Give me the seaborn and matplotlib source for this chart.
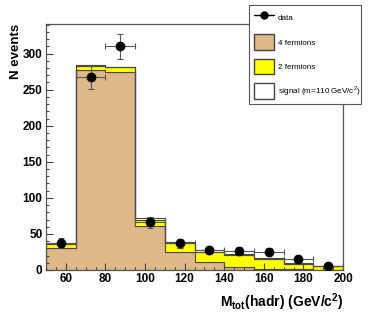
import numpy as np
import pandas as pd
import matplotlib
matplotlib.use("Agg")
import matplotlib.pyplot as plt
from matplotlib.patches import Patch
from matplotlib.lines import Line2D
from matplotlib.ticker import MultipleLocator
import seaborn as sns

# binning of the hadronic total mass (GeV/c^2)
bin_edges = [50, 65, 80, 95, 110, 125, 140, 155, 170, 185, 200]
bin_centers = [57.5, 72.5, 87.5, 102.5, 117.5, 132.5, 147.5, 162.5, 177.5, 192.5]
bin_half_width = 7.5

# stacked MC expectations (bottom to top)
four_fermions = [30, 277, 274, 61, 24.5, 11.5, 4.6, 1.5, 0.8, 0.5]
two_fermions = [5.6, 6, 7.5, 9, 12.5, 14, 16.4, 14.3, 7.8, 4.5]
signal = [2.2, 0.5, 0.5, 1.6, 1.3, 2.5, 1.5, 1.5, 1.1, 1.0]

# data points
data_counts = [38, 268, 310, 66, 37, 27.5, 26.5, 25.5, 15.5, 5]
data_err = [6, 16.5, 17.5, 8, 6, 5.2, 5.1, 5, 4, 2.2]

components = ["4 fermions", "2 fermions", "signal"]
colors = {"4 fermions": "#DEB887", "2 fermions": "#FFFF00", "signal": "#FFFFFF"}

hist = pd.DataFrame({
    "mass": bin_centers * 3,
    "events": four_fermions + two_fermions + signal,
    "component": ["4 fermions"] * 10 + ["2 fermions"] * 10 + ["signal"] * 10,
})

sns.set_style("ticks")
plt.rcParams["font.family"] = ["Liberation Sans", "DejaVu Sans"]
plt.rcParams["mathtext.fontset"] = "custom"
plt.rcParams["mathtext.rm"] = "Liberation Sans"
plt.rcParams["mathtext.bf"] = "Liberation Sans:bold"
plt.rcParams["xtick.direction"] = "in"
plt.rcParams["ytick.direction"] = "in"
plt.rcParams["axes.axisbelow"] = False
plt.rcParams["text.color"] = "black"
plt.rcParams["axes.labelcolor"] = "black"
plt.rcParams["xtick.labelcolor"] = "black"
plt.rcParams["ytick.labelcolor"] = "black"

fig = plt.figure(figsize=(3.84, 3.15), dpi=100)
ax = fig.add_axes([46 / 384, 45 / 315, 297 / 384, 246 / 315])

sns.histplot(data=hist, x="mass", weights="events", hue="component",
             hue_order=components[::-1], bins=bin_edges, multiple="stack",
             element="step", palette=colors, alpha=1, edgecolor="#4a4a4a",
             linewidth=0.8, legend=False, ax=ax)

ax.errorbar(bin_centers, data_counts, xerr=bin_half_width, yerr=data_err,
            fmt="o", color="black", ms=6, ecolor="#555555", elinewidth=0.8,
            capsize=2, capthick=0.8, zorder=5)

ax.set_axisbelow(False)
ax.set_xlim(50, 200)
ax.set_ylim(0, 341)
ax.xaxis.set_major_locator(MultipleLocator(20))
ax.xaxis.set_minor_locator(MultipleLocator(5))
ax.yaxis.set_major_locator(MultipleLocator(50))
ax.yaxis.set_minor_locator(MultipleLocator(10))
ax.tick_params(which="both", direction="in", color="#444444", width=0.8,
               top=False, right=False)
ax.tick_params(which="major", length=5, labelsize=8.5, pad=2.5,
               labelcolor="black")
ax.tick_params(which="minor", length=2.5)
for lab in ax.get_xticklabels() + ax.get_yticklabels():
    lab.set_fontweight("bold")
for sp in ax.spines.values():
    sp.set_visible(True)
    sp.set_color("#555555")
    sp.set_linewidth(0.9)

ax.set_xlabel(r"M$_{\mathbf{tot}}$(hadr) (GeV/c$^{\mathbf{2}}$)", loc="right",
              fontsize=10, fontweight="bold", color="black")
ax.set_ylabel("N events", loc="top", fontsize=9.5, fontweight="bold",
              color="black")
ax.xaxis.set_label_coords(1.0, -0.085)
ax.yaxis.set_label_coords(-0.08, 1.0)

handles = [
    Line2D([], [], color="black", marker="o", ms=5, lw=1),
    Patch(facecolor=colors["4 fermions"], edgecolor="#444444"),
    Patch(facecolor=colors["2 fermions"], edgecolor="#444444"),
    Patch(facecolor=colors["signal"], edgecolor="#444444"),
]
labels = ["data", "4 fermions", "2 fermions", r"signal (m=110 GeV/c$^2$)"]
leg = ax.legend(handles, labels, loc="upper left", mode="expand",
                bbox_to_anchor=(249 / 384, 1 - 107 / 315, 112 / 384, 102 / 315),
                bbox_transform=fig.transFigure, borderaxespad=0,
                fontsize=5.8, handlelength=2.5, handleheight=2.6,
                labelspacing=1.1, handletextpad=0.5, borderpad=0.6,
                fancybox=False, framealpha=1, edgecolor="#555555")
leg.get_frame().set_linewidth(0.8)
leg.set_zorder(10)

fig.savefig("out.png", dpi=100)
